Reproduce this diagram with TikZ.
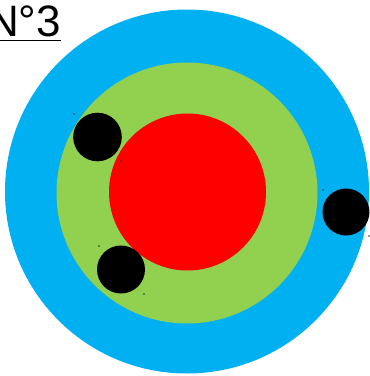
\documentclass[tikz,border=0pt]{standalone}
\usepackage{fontspec}
\setmainfont{Liberation Sans}
\definecolor{ringblue}{HTML}{00B0F0}
\definecolor{ringgreen}{HTML}{92D050}
\definecolor{corered}{HTML}{FF0000}

\begin{document}
\begin{tikzpicture}[x=1pt, y=1pt,
  ring/.style={draw=none},
  ball/.style={fill=black},
  handle/.style={fill=black!80}]
\useasboundingbox (0,0) rectangle (370,-376);
\clip (0,0) rectangle (370,-376);
% rings
\fill[ring, ringblue] (187,-191.5) circle (182);
\fill[ring, ringgreen] (187,-193) circle (130.5);
\fill[ring, corered] (187.5,-192) circle (78.5);
% black balls
\fill[ball] (97.5,-137) circle (24.3);
\fill[ball] (121,-269.5) circle (24);
\fill[ball] (346,-212) circle (23.5);
% selection handles
\foreach \hx/\hy in {74/114, 121/161, 99/246, 144/294, 323/190, 369/236}
  \fill[handle] (\hx,-\hy) circle (0.9);
% title
\node[anchor=base west, inner sep=0pt, font=\fontsize{44}{44}\selectfont] (title) at (-13,-36) {N°3};
\draw[line width=1.8pt] (0,-40.5) -- (title.east |- 0,-40.5);
\end{tikzpicture}
\end{document}
